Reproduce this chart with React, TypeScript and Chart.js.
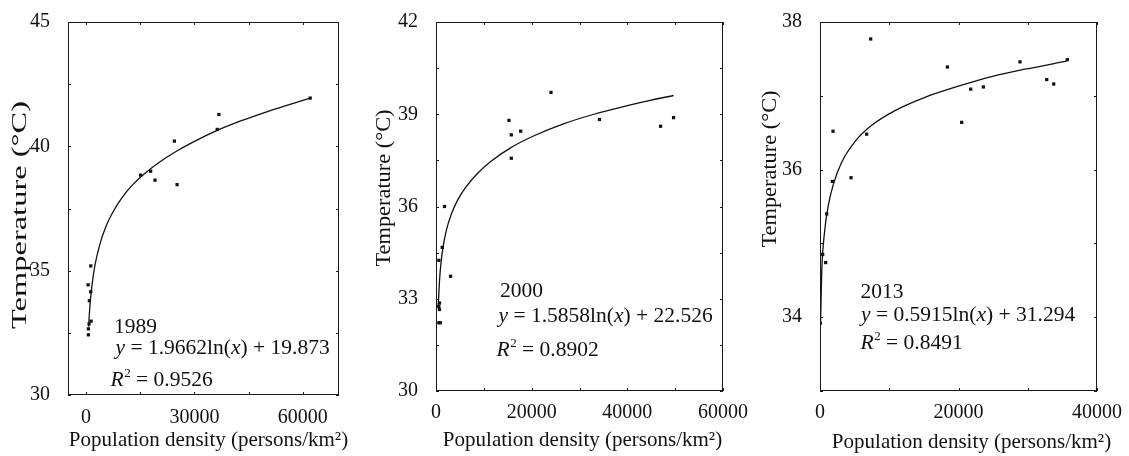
import React, { useEffect, useRef } from "react";
import { Chart, registerables } from "chart.js";

Chart.register(...registerables);

const FONT = "'Liberation Serif', 'Times New Roman', serif";
const TICK_SIZE = 20;
const NOTE_SIZE = 21.5;
const XTITLE_SIZE = 21;
const INK = "#111";

// ---------- 1989 ----------
const POP_1989 = [640, 640, 830, 1390, 920, 1300, 560, 1300, 15085, 17870, 19080, 24444, 25190, 36300, 36750, 62030];
const TEMP_1989 = [32.42, 32.66, 32.86, 32.97, 33.79, 34.15, 34.43, 35.19, 38.84, 39.0, 38.64, 40.21, 38.46, 40.68, 41.28, 41.94];
const FIT_X_1989 = [700, 1000, 1580, 2500, 3890, 5500, 7600, 10000, 13000, 16000, 20000, 25000, 30000, 36300, 43000, 50000, 56000, 62030];
const FIT_Y_1989 = [32.75, 33.45, 34.35, 35.25, 36.1, 36.78, 37.4, 37.95, 38.47, 38.88, 39.33, 39.8, 40.2, 40.64, 41.03, 41.39, 41.67, 41.94];
const X_TICKS_1989 = [0, 15000, 30000, 45000, 60000];
const X_LABELS_1989 = [0, 30000, 60000];
const Y_TICKS_1989 = [30, 32.5, 35, 37.5, 40, 42.5, 45];
const Y_LABELS_1989 = [30, 35, 40, 45];

// ---------- 2000 ----------
const POP_2000 = [730, 590, 730, 600, 900, 590, 1300, 1780, 3040, 15250, 15740, 15740, 17700, 24040, 34170, 46950, 49670];
const TEMP_2000 = [32.86, 32.75, 32.65, 32.22, 32.22, 34.25, 34.67, 36.0, 33.73, 38.8, 38.33, 37.57, 38.45, 39.71, 38.83, 38.61, 38.89];
const FIT_X_2000 = [450, 700, 1000, 1500, 2200, 3200, 4500, 6200, 8500, 11500, 15500, 20500, 26500, 33000, 40000, 45000, 49670];
const FIT_Y_2000 = [32.7, 33.5, 34.1, 34.7, 35.25, 35.75, 36.2, 36.62, 37.05, 37.47, 37.9, 38.3, 38.68, 39.0, 39.28, 39.46, 39.61];
const X_TICKS_2000 = [0, 10000, 20000, 30000, 40000, 50000, 60000];
const X_LABELS_2000 = [0, 20000, 40000, 60000];
const Y_TICKS_2000 = [30, 31.5, 33, 34.5, 36, 37.5, 39, 40.5, 42];
const Y_LABELS_2000 = [30, 33, 36, 39, 42];

// ---------- 2013 ----------
const POP_2013 = [50, 390, 820, 970, 1790, 1880, 4480, 6740, 7320, 18400, 20460, 21760, 23590, 28880, 32740, 33750, 35720];
const TEMP_2013 = [33.92, 34.85, 34.74, 35.4, 35.84, 36.52, 35.89, 36.48, 37.77, 37.39, 36.64, 37.09, 37.12, 37.46, 37.22, 37.16, 37.49];
const FIT_X_2013 = [90, 245, 630, 1210, 1930, 3130, 5050, 7460, 10830, 15160, 19980, 24790, 29600, 35620];
const FIT_Y_2013 = [33.95, 34.6, 35.13, 35.52, 35.8, 36.1, 36.38, 36.6, 36.8, 36.98, 37.13, 37.26, 37.36, 37.47];
const X_TICKS_2013 = [0, 10000, 20000, 30000, 40000];
const X_LABELS_2013 = [0, 20000, 40000];
const Y_TICKS_2013 = [33, 34, 35, 36, 37, 38];
const Y_LABELS_2013 = [34, 36, 38];

// ---------- annotation texts (segment text, style) ----------
const NOTE_1989 = [
  [["1989", ""]],
  [["y", "i"], [" = 1.9662ln(", ""], ["x", "i"], [") + 19.873", ""]],
  [["R", "i"], ["2", "sup"], [" = 0.9526", ""]],
];
const NOTE_2000 = [
  [["2000", ""]],
  [["y", "i"], [" = 1.5858ln(", ""], ["x", "i"], [") + 22.526", ""]],
  [["R", "i"], ["2", "sup"], [" = 0.8902", ""]],
];
const NOTE_2013 = [
  [["2013", ""]],
  [["y", "i"], [" = 0.5915ln(", ""], ["x", "i"], [") + 31.294", ""]],
  [["R", "i"], ["2", "sup"], [" = 0.8491", ""]],
];

const X_TITLE = "Population density (persons/km²)";
const Y_TITLE = "Temperature (°C)";

type Panel = {
  left: number;
  width: number;
  pop: number[];
  temp: number[];
  fitX: number[];
  fitY: number[];
  xMin: number;
  xMax: number;
  xTicks: number[];
  xLabels: number[];
  yMin: number;
  yMax: number;
  yTicks: number[];
  yLabels: number[];
  note: string[][][];
  notePos: number[][];
  yAxisWidth: number;
  xAxisHeight: number;
  padTop: number;
  padRight: number;
  xTickPad: number;
  xTitleCenter: number[];
  yTitleCenter: number[];
  yTitleSize: number;
  yTitleLength: number;
};

const PANELS: Panel[] = [
  {
    left: 0, width: 376,
    pop: POP_1989, temp: TEMP_1989, fitX: FIT_X_1989, fitY: FIT_Y_1989,
    xMin: -5000, xMax: 70000, xTicks: X_TICKS_1989, xLabels: X_LABELS_1989,
    yMin: 30, yMax: 45, yTicks: Y_TICKS_1989, yLabels: Y_LABELS_1989,
    note: NOTE_1989, notePos: [[114, 333], [115.5, 354], [110.5, 386]],
    yAxisWidth: 68, xAxisHeight: 61, padTop: 19, padRight: 37, xTickPad: 3,
    xTitleCenter: [208.5, 440], yTitleCenter: [20, 215], yTitleSize: 21, yTitleLength: 228,
  },
  {
    left: 366, width: 386,
    pop: POP_2000, temp: TEMP_2000, fitX: FIT_X_2000, fitY: FIT_Y_2000,
    xMin: 0, xMax: 60000, xTicks: X_TICKS_2000, xLabels: X_LABELS_2000,
    yMin: 30, yMax: 42, yTicks: Y_TICKS_2000, yLabels: Y_LABELS_2000,
    note: NOTE_2000, notePos: [[134, 297], [132.5, 322], [130.5, 356]],
    yAxisWidth: 70, xAxisHeight: 65, padTop: 16, padRight: 29, xTickPad: 2,
    xTitleCenter: [216.5, 440], yTitleCenter: [18, 188], yTitleSize: 22, yTitleLength: 157,
  },
  {
    left: 752, width: 377,
    pop: POP_2013, temp: TEMP_2013, fitX: FIT_X_2013, fitY: FIT_Y_2013,
    xMin: 0, xMax: 40000, xTicks: X_TICKS_2013, xLabels: X_LABELS_2013,
    yMin: 33, yMax: 38, yTicks: Y_TICKS_2013, yLabels: Y_LABELS_2013,
    note: NOTE_2013, notePos: [[108.5, 298], [109, 321], [108.5, 348.5]],
    yAxisWidth: 68, xAxisHeight: 65, padTop: 16, padRight: 32, xTickPad: 2,
    xTitleCenter: [219.5, 442], yTitleCenter: [18, 169], yTitleSize: 22, yTitleLength: 157,
  },
];

const framePlugin = {
  id: "frameTicks",
  afterDraw(chart: any) {
    const { ctx, chartArea: a, scales } = chart;
    const L = 3;
    const l = Math.round(a.left);
    const r = Math.round(a.right) - 1;
    const t = Math.round(a.top);
    const b = Math.round(a.bottom) - 1;
    ctx.save();
    ctx.fillStyle = "#1a1a1a";
    ctx.fillRect(l, t, r - l + 1, 1);
    ctx.fillRect(l, b, r - l + 1, 1);
    ctx.fillRect(l, t, 1, b - t + 1);
    ctx.fillRect(r, t, 1, b - t + 1);
    scales.x.ticks.forEach((tk: any) => {
      const px = Math.round(scales.x.getPixelForValue(tk.value));
      ctx.fillRect(px, t, 1, L);
      ctx.fillRect(px, b - L + 1, 1, L);
    });
    scales.y.ticks.forEach((tk: any) => {
      const py = Math.round(scales.y.getPixelForValue(tk.value));
      ctx.fillRect(l, py, L, 1);
      ctx.fillRect(r - L + 1, py, L, 1);
    });
    ctx.restore();
  },
};

function makeTextPlugin(p: Panel) {
  return {
    id: "texts",
    afterDraw(chart: any) {
      const ctx = chart.ctx;
      ctx.save();
      ctx.fillStyle = INK;
      ctx.textBaseline = "alphabetic";
      ctx.textAlign = "left";
      p.note.forEach((line, i) => {
        let x = p.notePos[i][0];
        const y = p.notePos[i][1];
        line.forEach(([text, style]) => {
          if (style === "sup") {
            ctx.font = `13px ${FONT}`;
            ctx.fillText(text, x + 0.5, y - 9);
            x += ctx.measureText(text).width + 0.5;
          } else {
            ctx.font = `${style === "i" ? "italic " : ""}${NOTE_SIZE}px ${FONT}`;
            ctx.fillText(text, x, y);
            x += ctx.measureText(text).width;
          }
        });
      });
      // x-axis title
      ctx.font = `${XTITLE_SIZE}px ${FONT}`;
      ctx.textAlign = "center";
      ctx.textBaseline = "middle";
      ctx.fillText(X_TITLE, p.xTitleCenter[0], p.xTitleCenter[1]);
      // y-axis title
      ctx.font = `${p.yTitleSize}px ${FONT}`;
      const w = ctx.measureText(Y_TITLE).width;
      ctx.translate(p.yTitleCenter[0], p.yTitleCenter[1]);
      ctx.rotate(-Math.PI / 2);
      ctx.scale(p.yTitleLength / w, 1);
      ctx.fillText(Y_TITLE, 0, 0);
      ctx.restore();
    },
  };
}

function PanelChart({ p }: { p: Panel }) {
  const ref = useRef<HTMLCanvasElement>(null);
  useEffect(() => {
    if (!ref.current) return;
    const points = p.pop.map((x, i) => ({ x, y: p.temp[i] }));
    const fit = p.fitX.map((x, i) => ({ x, y: p.fitY[i] }));
    const font = { family: FONT, size: TICK_SIZE };
    const chart = new Chart(ref.current, {
      type: "scatter",
      data: {
        datasets: [
          {
            data: fit,
            showLine: true,
            borderColor: INK,
            borderWidth: 1.3,
            pointRadius: 0,
            cubicInterpolationMode: "monotone",
            fill: false,
          } as any,
          {
            data: points,
            pointStyle: "rect",
            pointRadius: 2.3,
            pointBackgroundColor: INK,
            pointBorderWidth: 0,
            showLine: false,
          } as any,
        ],
      },
      options: {
        responsive: false,
        animation: false,
        layout: { padding: { top: p.padTop, right: p.padRight, left: 0, bottom: 0 } },
        plugins: { legend: { display: false }, tooltip: { enabled: false } },
        scales: {
          x: {
            type: "linear",
            min: p.xMin,
            max: p.xMax,
            afterBuildTicks: (s: any) => {
              s.ticks = p.xTicks.map((v) => ({ value: v }));
            },
            afterFit: (s: any) => {
              s.height = p.xAxisHeight;
            },
            grid: { display: false },
            border: { display: false },
            ticks: {
              color: INK,
              font,
              padding: p.xTickPad,
              maxRotation: 0,
              autoSkip: false,
              callback: (v: any) => (p.xLabels.includes(Number(v)) ? String(v) : ""),
            },
          },
          y: {
            type: "linear",
            min: p.yMin,
            max: p.yMax,
            afterBuildTicks: (s: any) => {
              s.ticks = p.yTicks.map((v) => ({ value: v }));
            },
            afterFit: (s: any) => {
              s.width = p.yAxisWidth;
            },
            grid: { display: false },
            border: { display: false },
            ticks: {
              color: INK,
              font,
              padding: 10,
              autoSkip: false,
              callback: (v: any) => (p.yLabels.includes(Number(v)) ? String(v) : ""),
            },
          },
        },
      } as any,
      plugins: [framePlugin, makeTextPlugin(p)],
    });
    return () => chart.destroy();
  }, [p]);
  return (
    <canvas
      ref={ref}
      width={p.width}
      height={456}
      style={{ position: "absolute", left: p.left, top: 0, width: p.width, height: 456 }}
    />
  );
}

export default function App() {
  return (
    <div
      style={{
        position: "absolute",
        left: 0,
        top: 0,
        width: 1129,
        height: 456,
        background: "#fff",
        overflow: "hidden",
      }}
    >
      {PANELS.map((p, i) => (
        <PanelChart key={i} p={p} />
      ))}
    </div>
  );
}
